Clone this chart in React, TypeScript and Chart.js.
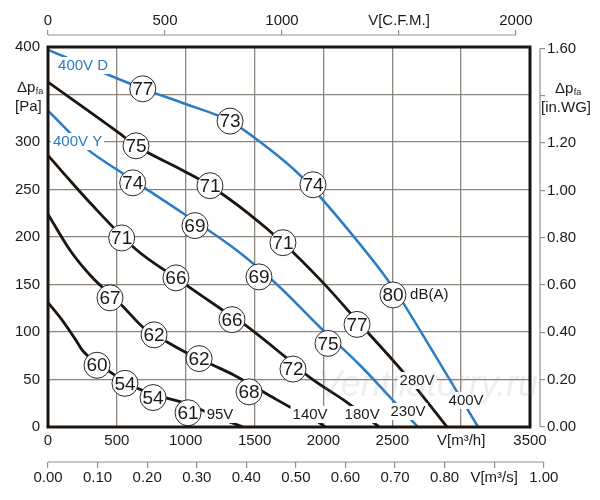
import { useEffect, useRef } from "react"
import { Chart, registerables } from "chart.js"

Chart.register(...registerables)

const FONT = "'Liberation Sans', Arial, Helvetica, sans-serif"
const BLUE = "#2b7cc4"
const BLACK = "#1c140e"
const GRID = "#8c857c"
const AXIS = "#8f8f8f"
const TEXT = "#1a1a1a"

// unit conversions
const M3H_MAX = 3500
const PA_MAX = 400
const M3H_PER_CFM = 1.699
const PA_PER_INWG = 249.089
const M3H_PER_M3S = 3600

// ticks
const M3H_TICKS = [0, 500, 1000, 1500, 2000, 2500, 3000, 3500]
const PA_TICKS = [0, 50, 100, 150, 200, 250, 300, 350, 400]
const CFM_TICKS = [0, 500, 1000, 1500, 2000]
const INWG_TICKS = [0, 0.2, 0.4, 0.6, 0.8, 1.0, 1.2, 1.4, 1.6]
const M3S_TICKS = [0, 0.1, 0.2, 0.3, 0.4, 0.5, 0.6, 0.7, 0.8, 0.9, 1.0]

// fan curves: [V m³/h, Δp Pa]
const CURVE_400V_D = [
  [0, 397], [450, 370], [690, 356], [1000, 340], [1322, 322], [1540, 300], [1830, 265],
  [2217, 201], [2505, 147], [2796, 79], [3123, 0],
]
const CURVE_280V = [
  [0, 363], [520, 309], [639, 296], [980, 270], [1176, 254], [1445, 226], [1706, 194],
  [1997, 152], [2244, 112], [2578, 58], [2898, 0],
]
const CURVE_400V_Y = [
  [0, 333], [290, 292], [500, 271], [740, 248], [980, 225], [1370, 186], [1663, 150],
  [1975, 105], [2266, 65], [2505, 28], [2687, 0],
]
const CURVE_180V = [
  [0, 286], [138, 263], [305, 236], [646, 186], [929, 157], [1249, 125], [1416, 109],
  [1721, 74], [1903, 52], [2171, 26], [2405, 0],
]
const CURVE_140V = [
  [0, 224], [160, 186], [305, 160], [537, 128], [690, 105], [871, 89], [1009, 78],
  [1200, 65], [1345, 55], [1634, 31], [1757, 21], [1954, 6], [2015, 0],
]
const CURVE_95V = [
  [0, 131], [100, 113], [200, 92], [254, 80], [450, 58], [646, 41], [850, 31],
  [995, 25], [1322, 5], [1416, 0],
]

// sound power marks: [V m³/h, Δp Pa, dB(A)]
const DBA_400V_D = [[688, 356, 77], [1322, 322, 73], [1924, 255, 74], [2505, 139, 80]]
const DBA_280V = [[639, 296, 75], [1176, 254, 71], [1706, 194, 71], [2244, 108, 77]]
const DBA_400V_Y = [[615, 257, 74], [1067, 212, 69], [1532, 158, 69], [2033, 88, 75]]
const DBA_180V = [[535, 199, 71], [929, 157, 66], [1336, 113, 66], [1779, 61, 72]]
const DBA_140V = [[450, 136, 67], [770, 97, 62], [1097, 72, 62], [1460, 37, 68]]
const DBA_95V = [[356, 65, 60], [559, 46, 54], [763, 31, 54], [1017, 15, 61]]

// text labels: [text, V m³/h, Δp Pa]
const VOLT_LABELS = [
  ["95V", 1249, 12.6], ["140V", 1903, 12.6], ["180V", 2281, 12.6],
  ["230V", 2614, 15.8], ["280V", 2680, 48.4], ["400V", 3036, 27.4],
]
const SERIES_LABELS = [["400V D", 73, 380], ["400V Y", 36, 300]]
const DBA_UNIT_LABEL = ["dB(A)", 2629, 139]

const pts = (arr: number[][]) => arr.map(([x, y]) => ({ x, y }))

const tickFont = { family: FONT, size: 15 }

const overlay = {
  id: "overlay",
  afterDatasetsDraw(chart: any) {
    const { ctx, chartArea, scales } = chart
    const sx = scales.x
    const sy = scales.y
    ctx.save()

    // numbers inside the circles
    ctx.font = `19px ${FONT}`
    ctx.fillStyle = TEXT
    ctx.textAlign = "center"
    ctx.textBaseline = "middle"
    const meta = chart.getDatasetMeta(0)
    const raw = chart.data.datasets[0].data as any[]
    meta.data.forEach((el: any, i: number) => {
      ctx.fillText(String(raw[i].label), el.x, el.y + 1)
    })

    // labels with white background
    const boxed = (t: string, q: number, p: number, align: "left" | "center", color: string) => {
      ctx.font = `15px ${FONT}`
      const w = ctx.measureText(t).width
      const px = sx.getPixelForValue(q)
      const py = sy.getPixelForValue(p)
      const left = align === "center" ? px - w / 2 : px
      ctx.fillStyle = "#fff"
      ctx.fillRect(left - 2, py - 9, w + 4, 17)
      ctx.fillStyle = color
      ctx.textAlign = "left"
      ctx.fillText(t, left, py)
    }
    VOLT_LABELS.forEach(([t, q, p]) => boxed(t as string, q as number, p as number, "center", TEXT))
    SERIES_LABELS.forEach(([t, q, p]) => boxed(t as string, q as number, p as number, "left", BLUE))
    boxed(DBA_UNIT_LABEL[0] as string, DBA_UNIT_LABEL[1] as number, DBA_UNIT_LABEL[2] as number, "left", TEXT)

    // frame
    ctx.strokeStyle = BLACK
    ctx.lineWidth = 3
    ctx.strokeRect(chartArea.left, chartArea.top, chartArea.right - chartArea.left, chartArea.bottom - chartArea.top)

    // secondary axis lines
    const cfm = scales.xCfm
    const wg = scales.yWg
    const sec = scales.xSec
    ctx.strokeStyle = AXIS
    ctx.lineWidth = 1.2
    ctx.beginPath()
    ctx.moveTo(cfm.getPixelForValue(0), cfm.bottom)
    ctx.lineTo(cfm.getPixelForValue(2000), cfm.bottom)
    ctx.moveTo(wg.left, wg.getPixelForValue(1.6))
    ctx.lineTo(wg.left, wg.getPixelForValue(0))
    ctx.moveTo(sec.getPixelForValue(0), sec.top)
    ctx.lineTo(sec.getPixelForValue(1.0), sec.top)
    ctx.stroke()

    // pressure axis titles with subscript
    const title = (x: number, yMid: number, unit: string, unitX: number) => {
      ctx.fillStyle = TEXT
      ctx.textAlign = "left"
      ctx.textBaseline = "middle"
      ctx.font = `15px ${FONT}`
      ctx.fillText("Δp", x, yMid - 7)
      const w = ctx.measureText("Δp").width
      ctx.font = `9px ${FONT}`
      ctx.fillText("fa", x + w + 0.5, yMid - 3)
      ctx.font = `15px ${FONT}`
      ctx.fillText(unit, unitX, yMid + 12)
    }
    title(17, sy.getPixelForValue(350), "[Pa]", 15)
    title(555, wg.getPixelForValue(1.4), "[in.WG]", 541)

    // watermark
    ctx.font = `italic 36px ${FONT}`
    ctx.fillStyle = "rgba(150,150,150,0.16)"
    ctx.textAlign = "center"
    ctx.fillText("Ventilatorry.ru", 428, 386)

    ctx.restore()
  },
}

export default function App() {
  const chartRef = useRef<HTMLCanvasElement>(null)
  const chartInstance = useRef<Chart | null>(null)

  useEffect(() => {
    if (!chartRef.current) return
    if (chartInstance.current) chartInstance.current.destroy()

    const circles = [DBA_400V_D, DBA_280V, DBA_400V_Y, DBA_180V, DBA_140V, DBA_95V]
      .flat()
      .map(([x, y, label]) => ({ x, y, label }))

    const curve = (data: number[][], color: string, width: number) => ({
      data: pts(data),
      showLine: true,
      borderColor: color,
      borderWidth: width,
      pointRadius: 0,
      cubicInterpolationMode: "monotone" as const,
    })

    const fixTicks = (values: number[]) => (s: any) => {
      s.ticks = values.map((value) => ({ value }))
    }
    const near = (a: number, b: number) => Math.abs(a - b) < 1e-6

    chartInstance.current = new Chart(chartRef.current, {
      type: "scatter",
      data: {
        datasets: [
          {
            data: circles,
            pointRadius: 13,
            pointHoverRadius: 13,
            pointBackgroundColor: "#fff",
            pointBorderColor: "#2a2a2a",
            pointBorderWidth: 1,
            showLine: false,
            order: -1,
          } as any,
          curve(CURVE_400V_D, BLUE, 2.5),
          curve(CURVE_280V, BLACK, 2.8),
          curve(CURVE_400V_Y, BLUE, 2.5),
          curve(CURVE_180V, BLACK, 2.8),
          curve(CURVE_140V, BLACK, 2.8),
          curve(CURVE_95V, BLACK, 2.8),
        ],
      },
      options: {
        animation: false,
        responsive: true,
        maintainAspectRatio: false,
        events: [],
        layout: { padding: 0 },
        plugins: { legend: { display: false }, tooltip: { enabled: false } },
        scales: {
          x: {
            type: "linear",
            position: "bottom",
            min: 0,
            max: M3H_MAX,
            afterBuildTicks: fixTicks(M3H_TICKS),
            afterFit: (s: any) => { s.height = 35 },
            grid: { color: GRID, lineWidth: 1.3, drawTicks: false },
            border: { display: false },
            ticks: {
              font: tickFont, color: TEXT, padding: 5, autoSkip: false, maxRotation: 0,
              callback: (v: any) => (v === 3000 ? "V[m³/h]" : String(v)),
            },
          },
          y: {
            type: "linear",
            position: "left",
            min: 0,
            max: PA_MAX,
            afterBuildTicks: fixTicks(PA_TICKS),
            afterFit: (s: any) => { s.width = 48 },
            grid: { color: GRID, lineWidth: 1.3, drawTicks: false },
            border: { display: false },
            ticks: {
              font: tickFont, color: TEXT, padding: 8, autoSkip: false,
              callback: (v: any) => (v === 350 ? "" : String(v)),
            },
          },
          xCfmGap: {
            type: "linear",
            position: "top",
            afterFit: (s: any) => { s.height = 12 },
            grid: { display: false },
            border: { display: false },
            ticks: { display: false },
          },
          xCfm: {
            type: "linear",
            position: "top",
            min: 0,
            max: M3H_MAX / M3H_PER_CFM,
            afterBuildTicks: fixTicks(CFM_TICKS),
            afterFit: (s: any) => { s.height = 35 },
            grid: { drawOnChartArea: false, drawTicks: true, tickLength: 5, color: AXIS, lineWidth: 1.2 },
            border: { display: false },
            ticks: {
              font: tickFont, color: TEXT, padding: 0, autoSkip: false, maxRotation: 0,
              callback: (v: any) => (v === 1500 ? "V[C.F.M.]" : String(v)),
            },
          },
          yGap: {
            type: "linear",
            position: "right",
            afterFit: (s: any) => { s.width = 10 },
            grid: { display: false },
            border: { display: false },
            ticks: { display: false },
          },
          yWg: {
            type: "linear",
            position: "right",
            min: 0,
            max: PA_MAX / PA_PER_INWG,
            afterBuildTicks: fixTicks(INWG_TICKS),
            afterFit: (s: any) => { s.width = 60 },
            grid: { drawOnChartArea: false, drawTicks: true, tickLength: 5, color: AXIS, lineWidth: 1.2 },
            border: { display: false },
            ticks: {
              font: tickFont, color: TEXT, padding: 2, autoSkip: false,
              callback: (v: any) => (near(v, 1.4) ? "" : Number(v).toFixed(2)),
            },
          },
          xSec: {
            type: "linear",
            position: "bottom",
            min: 0,
            max: M3H_MAX / M3H_PER_M3S,
            afterBuildTicks: fixTicks(M3S_TICKS),
            afterFit: (s: any) => { s.height = 38 },
            grid: { drawOnChartArea: false, drawTicks: true, tickLength: 6, color: AXIS, lineWidth: 1.2 },
            border: { display: false },
            ticks: {
              font: tickFont, color: TEXT, padding: 1, autoSkip: false, maxRotation: 0,
              callback: (v: any) => (near(v, 0.9) ? "V[m³/s]" : Number(v).toFixed(2)),
            },
          },
        },
      },
      plugins: [overlay],
    })

    return () => {
      if (chartInstance.current) {
        chartInstance.current.destroy()
        chartInstance.current = null
      }
    }
  }, [])

  return (
    <div style={{ position: "fixed", left: 0, top: 0, width: 600, height: 500, background: "#fff" }}>
      <canvas ref={chartRef} />
    </div>
  )
}
